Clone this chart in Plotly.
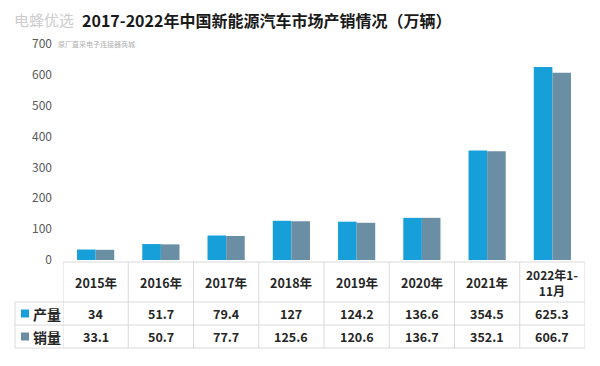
import plotly.graph_objects as go

categories = ["2015年", "2016年", "2017年", "2018年", "2019年", "2020年", "2021年", "2022年1-<br>11月"]
production = [34, 51.7, 79.4, 127, 124.2, 136.6, 354.5, 625.3]
sales = [33.1, 50.7, 77.7, 125.6, 120.6, 136.7, 352.1, 606.7]
production_labels = ["34", "51.7", "79.4", "127", "124.2", "136.6", "354.5", "625.3"]
sales_labels = ["33.1", "50.7", "77.7", "125.6", "120.6", "136.7", "352.1", "606.7"]
series_names = ["产量", "销量"]
y_ticks = [0, 100, 200, 300, 400, 500, 600, 700]

C_PROD = "#169fd8"
C_SALE = "#6a8ea3"
FONT = "Noto Sans CJK SC"

# page body has an 8px margin; compensate so screen positions match
OFF = 8
W, H = 600, 366
SL, SR, ST, SB = 63, 585, 44, 260   # target screen edges of plot area
L, T = SL - OFF, ST - OFF
R = W - (SR - OFF)
B = H - (SB - OFF)
PH = H - T - B
PW = W - L - R

def py(px):
    return ((SB - OFF) - (px - OFF)) / PH

def pxx(px):
    return ((px - OFF) - (SL - OFF)) / PW

xs = list(range(len(categories)))

fig = go.Figure()
fig.add_bar(x=xs, y=production, name=series_names[0], marker_color=C_PROD, marker_line_width=0)
fig.add_bar(x=xs, y=sales, name=series_names[1], marker_color=C_SALE, marker_line_width=0)

shapes = []
ann = []
line = dict(color="#d9d9d9", width=1)
n = len(categories)
shapes.append(dict(type="line", xref="x", yref="paper", x0=-0.5, x1=n - 0.5, y0=py(262), y1=py(262), line=line))
for yy in (302, 325, 348):
    shapes.append(dict(type="line", xref="paper", yref="paper", x0=pxx(15), x1=1, y0=py(yy), y1=py(yy), line=line))
for i in range(n + 1):
    shapes.append(dict(type="line", xref="x", yref="paper", x0=i - 0.5, x1=i - 0.5, y0=py(262), y1=py(348), line=line))
shapes.append(dict(type="line", xref="paper", yref="paper", x0=pxx(15), x1=pxx(15), y0=py(302), y1=py(348), line=line))

tf = dict(family=FONT, size=12.5, color="#262626")
for i, c in enumerate(categories):
    two = "<br>" in c
    ann.append(dict(x=i, y=py(282), xref="x", yref="paper", text="<b>%s</b>" % c, showarrow=False,
                    font=dict(family=FONT, size=12 if two else 12.5, color="#262626"),
                    xanchor="center", yanchor="middle"))
    ann.append(dict(x=i, y=py(313.5), xref="x", yref="paper", text="<b>%s</b>" % production_labels[i], showarrow=False,
                    font=tf, xanchor="center", yanchor="middle"))
    ann.append(dict(x=i, y=py(336.5), xref="x", yref="paper", text="<b>%s</b>" % sales_labels[i], showarrow=False,
                    font=tf, xanchor="center", yanchor="middle"))

for name, col, yy in ((series_names[0], C_PROD, 313.5), (series_names[1], C_SALE, 336.5)):
    shapes.append(dict(type="rect", xref="paper", yref="paper", x0=pxx(21), x1=pxx(29),
                       y0=py(yy + 4), y1=py(yy - 4), fillcolor=col, line=dict(width=0)))
    ann.append(dict(x=pxx(31), y=py(yy), xref="paper", yref="paper", text="<b>%s</b>" % name, showarrow=False,
                    font=dict(family=FONT, size=14, color="#262626"), xanchor="left", yanchor="middle"))

# watermark
ann.append(dict(x=pxx(12), y=py(19), xref="paper", yref="paper", text="电蜂优选", showarrow=False,
                font=dict(family=FONT, size=15, color="#cccccc"), xanchor="left", yanchor="middle"))
ann.append(dict(x=pxx(56), y=py(44), xref="paper", yref="paper", text="原厂直采电子连接器商城", showarrow=False,
                font=dict(family=FONT, size=7, color="#b0b0b0"), xanchor="left", yanchor="middle"))
# title
ann.append(dict(x=pxx(266), y=py(20), xref="paper", yref="paper",
                text="<b>2017-2022年中国新能源汽车市场产销情况（万辆）</b>", showarrow=False,
                font=dict(family=FONT, size=16, color="#1a1a1a"), xanchor="center", yanchor="middle"))

fig.update_layout(
    width=W, height=H,
    margin=dict(l=L, r=R, t=T, b=B),
    paper_bgcolor="white", plot_bgcolor="white",
    barmode="group", bargap=0.43, bargroupgap=0,
    showlegend=False,
    shapes=shapes, annotations=ann,
    xaxis=dict(range=[-0.5, n - 0.5], showticklabels=False, showgrid=False, zeroline=False, showline=False,
               ticks=""),
    yaxis=dict(range=[0, 700], tickvals=y_ticks, showgrid=False, zeroline=False, showline=False,
               tickfont=dict(family=FONT, size=12, color="#595959"), ticklabelstandoff=10),
)

fig.write_html("out.html")
